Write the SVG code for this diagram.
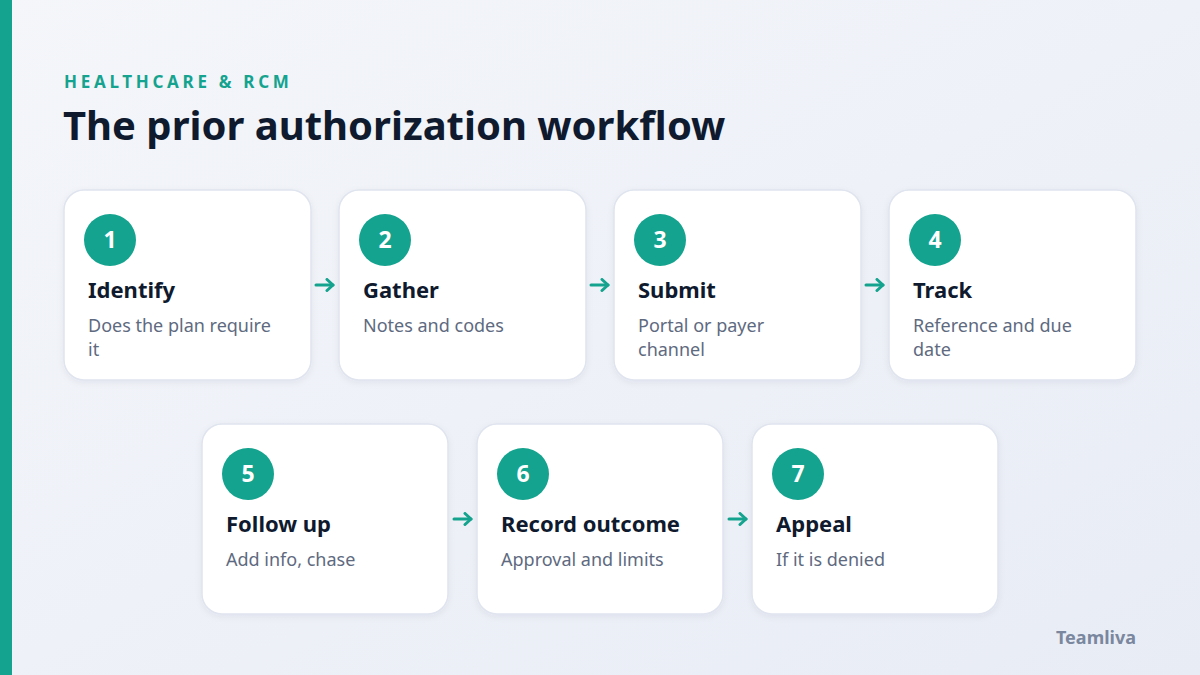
<svg xmlns="http://www.w3.org/2000/svg" width="1200" height="675" viewBox="0 0 1200 675">
<defs>
<linearGradient id="bg" x1="0" y1="0" x2="1" y2="1">
<stop offset="0" stop-color="#f4f6fa"/>
<stop offset="1" stop-color="#e8ecf5"/>
</linearGradient>
<marker id="ah" viewBox="0 0 14 14" refX="8" refY="7" markerWidth="14" markerHeight="14" markerUnits="userSpaceOnUse" orient="auto">
<path d="M2,1.5 L8,7 L2,12.5" fill="none" stroke="#14a38e" stroke-width="3" stroke-linecap="round" stroke-linejoin="round"/>
</marker>
<filter id="sh" x="-10%" y="-10%" width="120%" height="130%">
<feDropShadow dx="0" dy="2" stdDeviation="3" flood-color="#1e2a4a" flood-opacity="0.06"/>
</filter>
</defs>
<style>
.card{fill:#ffffff;stroke:#dfe4ee;stroke-width:1.5;filter:url(#sh)}
.num{fill:#14a38e}
.numt{font-family:"Noto Sans","Open Sans",sans-serif;font-weight:700;font-size:23px;fill:#ffffff;text-anchor:middle}
.ttl{font-family:"Noto Sans","Open Sans",sans-serif;font-weight:700;font-size:22px;fill:#0f1a2e}
.dsc{font-family:"Noto Sans","Open Sans",sans-serif;font-size:18px;fill:#5e6a80}
.conn{stroke:#14a38e;stroke-width:3;stroke-linecap:round;fill:none}
</style>
<rect width="1200" height="675" fill="url(#bg)"/>
<rect x="0" y="0" width="12" height="675" fill="#14a38e"/>
<text x="64" y="88" font-family="Noto Sans, Open Sans, sans-serif" font-weight="700" font-size="17" letter-spacing="3.7" fill="#14a38e">HEALTHCARE &amp; RCM</text>
<text x="63" y="140" font-family="Noto Sans, Open Sans, sans-serif" font-weight="700" font-size="40" fill="#0f1a2e">The prior authorization workflow</text>

<g id="connectors">
<line class="conn" x1="316" y1="285" x2="333" y2="285" marker-end="url(#ah)"/>
<line class="conn" x1="591" y1="285" x2="608" y2="285" marker-end="url(#ah)"/>
<line class="conn" x1="866" y1="285" x2="883" y2="285" marker-end="url(#ah)"/>
<line class="conn" x1="454" y1="519" x2="471" y2="519" marker-end="url(#ah)"/>
<line class="conn" x1="729" y1="519" x2="746" y2="519" marker-end="url(#ah)"/>
</g>

<g id="step1">
<rect class="card" x="64" y="190" width="247" height="190" rx="20"/>
<circle class="num" cx="110" cy="240" r="26"/>
<text class="numt" x="110" y="248">1</text>
<text class="ttl" x="88" y="298">Identify</text>
<text class="dsc" x="88" y="332">Does the plan require</text>
<text class="dsc" x="88" y="356">it</text>
</g>
<g id="step2">
<rect class="card" x="339" y="190" width="247" height="190" rx="20"/>
<circle class="num" cx="385" cy="240" r="26"/>
<text class="numt" x="385" y="248">2</text>
<text class="ttl" x="363" y="298">Gather</text>
<text class="dsc" x="363" y="332">Notes and codes</text>
</g>
<g id="step3">
<rect class="card" x="614" y="190" width="247" height="190" rx="20"/>
<circle class="num" cx="660" cy="240" r="26"/>
<text class="numt" x="660" y="248">3</text>
<text class="ttl" x="638" y="298">Submit</text>
<text class="dsc" x="638" y="332">Portal or payer</text>
<text class="dsc" x="638" y="356">channel</text>
</g>
<g id="step4">
<rect class="card" x="889" y="190" width="247" height="190" rx="20"/>
<circle class="num" cx="935" cy="240" r="26"/>
<text class="numt" x="935" y="248">4</text>
<text class="ttl" x="913" y="298">Track</text>
<text class="dsc" x="913" y="332">Reference and due</text>
<text class="dsc" x="913" y="356">date</text>
</g>
<g id="step5">
<rect class="card" x="202" y="424" width="246" height="190" rx="20"/>
<circle class="num" cx="248" cy="474" r="26"/>
<text class="numt" x="248" y="482">5</text>
<text class="ttl" x="226" y="532">Follow up</text>
<text class="dsc" x="226" y="566">Add info, chase</text>
</g>
<g id="step6">
<rect class="card" x="477" y="424" width="246" height="190" rx="20"/>
<circle class="num" cx="523" cy="474" r="26"/>
<text class="numt" x="523" y="482">6</text>
<text class="ttl" x="501" y="532">Record outcome</text>
<text class="dsc" x="501" y="566">Approval and limits</text>
</g>
<g id="step7">
<rect class="card" x="752" y="424" width="246" height="190" rx="20"/>
<circle class="num" cx="798" cy="474" r="26"/>
<text class="numt" x="798" y="482">7</text>
<text class="ttl" x="776" y="532">Appeal</text>
<text class="dsc" x="776" y="566">If it is denied</text>
</g>
<text x="1136" y="644" text-anchor="end" font-family="Noto Sans, Open Sans, sans-serif" font-weight="700" font-size="18" fill="#7a879e">Teamliva</text>
</svg>
